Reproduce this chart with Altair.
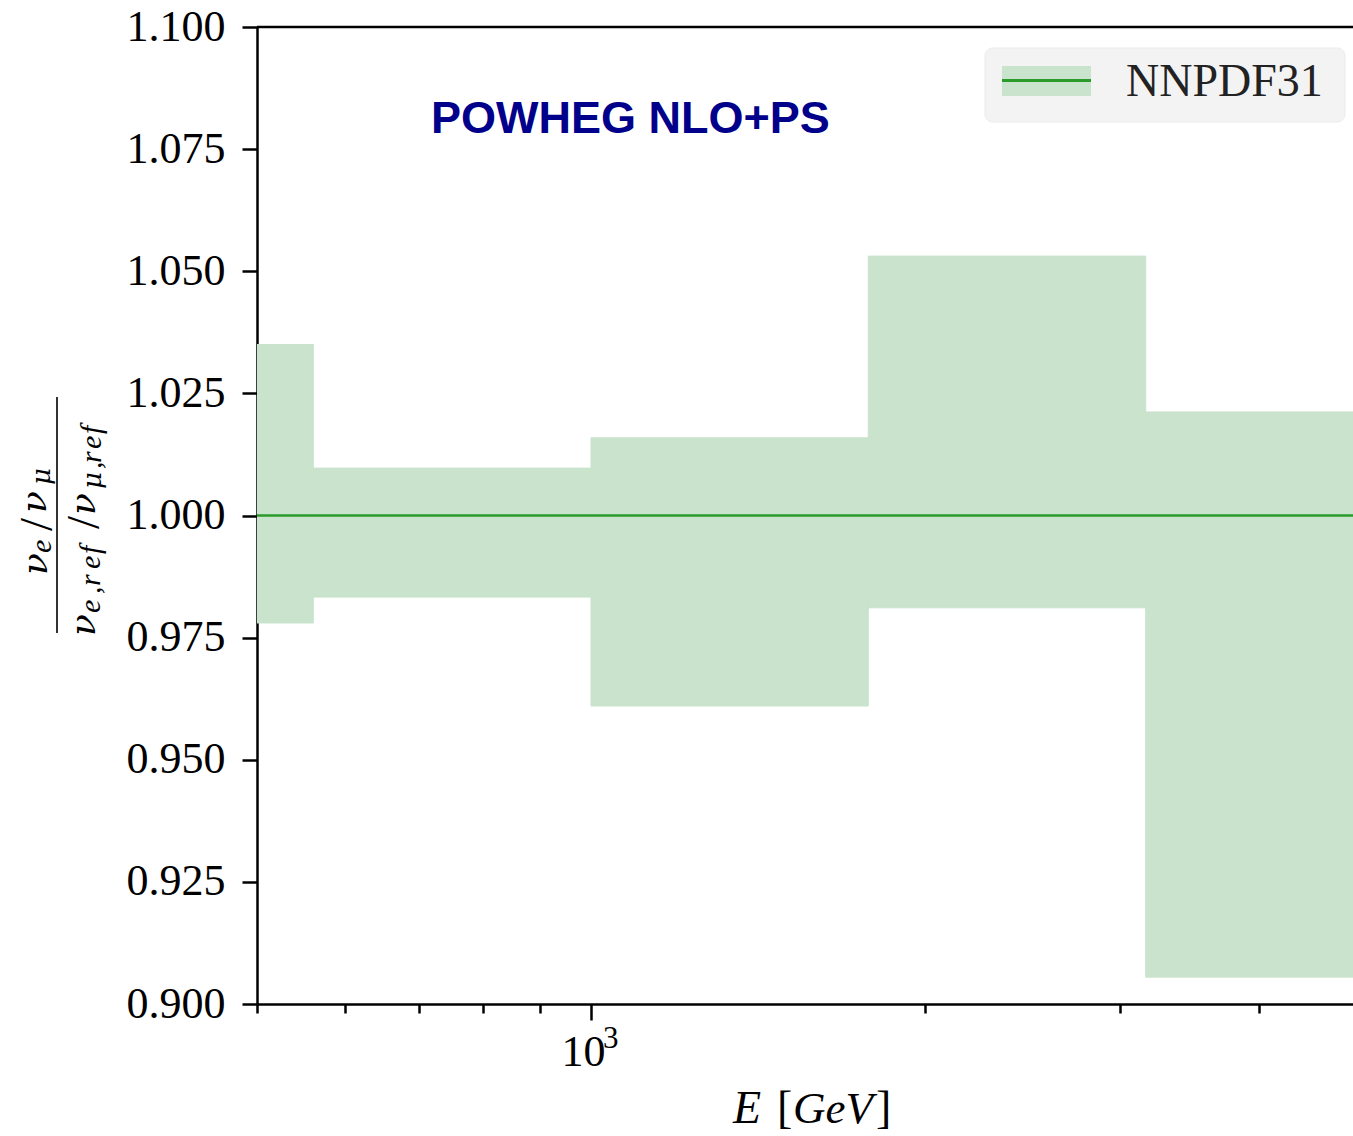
import altair as alt
import pandas as pd

# ---------------- data ----------------
bin_lo = [316, 562, 1000, 1778, 3162]
bin_hi = [562, 1000, 1778, 3162, 5623]
band_low = [0.978, 0.9833, 0.961, 0.9811, 0.9055]
band_high = [1.035, 1.0097, 1.0159, 1.0531, 1.0212]
central = [1.0]
x_ticks = [500, 600, 700, 800, 900, 1000, 2000, 3000, 4000]
y_ticks = [0.900, 0.925, 0.950, 0.975, 1.000, 1.025, 1.050, 1.075, 1.100]
legend_label = "NNPDF31"
annotation = "POWHEG NLO+PS"

# ---------------- layout constants ----------------
LEFT, TOP = 257, 27
W, H = 1096, 977
SERIF = "Liberation Serif"
GREEK = "DejaVu Serif"
SANS = "Liberation Sans"
GREEN = "#2a9a2a"
BAND = "#c9e3cc"

df = pd.DataFrame({"lo": bin_lo, "hi": bin_hi, "low": band_low, "high": band_high})
xscale = alt.Scale(type="log", domain=[500, 4862], nice=False)
yscale = alt.Scale(domain=[0.9, 1.1], nice=False, zero=False)

xaxis = alt.Axis(
    values=x_ticks,
    labelExpr="datum.value == 1000 ? '10' : ''",
    tickSize={"condition": {"test": "datum.value == 1000", "value": 16}, "value": 9},
    tickWidth=2.5, tickColor="black", domainWidth=2.5, domainColor="black",
    labelFont=SERIF, labelFontSize=44, labelColor="black", labelPadding=10,
    labelOffset=-8, labelFlush=False, labelOverlap=False, grid=False, title=None,
)
yaxis = alt.Axis(
    values=y_ticks, format=".3f",
    tickSize=15, tickWidth=2.5, tickColor="black", domainWidth=2.5, domainColor="black",
    labelFont=SERIF, labelFontSize=44, labelColor="black", labelPadding=17,
    labelFlush=False, labelOverlap=False, grid=False, title=None,
)

bands = alt.Chart(df).mark_rect(color=BAND, stroke=BAND, strokeWidth=1, clip=True).encode(
    x=alt.X("lo:Q", scale=xscale, axis=xaxis),
    x2="hi:Q",
    y=alt.Y("low:Q", scale=yscale, axis=yaxis),
    y2="high:Q",
)

center = alt.Chart(pd.DataFrame({"v": central})).mark_rule(color=GREEN, strokeWidth=2.4).encode(
    y=alt.Y("v:Q", scale=yscale)
)

one = alt.Data(values=[{"a": 1}])


def px(x):
    return alt.value(x - LEFT)


def py(y):
    return alt.value(y - TOP)


def text(t, x, y, size, font=SERIF, style="normal", weight="normal", color="black", angle=0, align="left"):
    return alt.Chart(one).mark_text(
        text=t, font=font, fontSize=size, fontStyle=style, fontWeight=weight,
        color=color, angle=angle, align=align, baseline="alphabetic",
    ).encode(x=px(x), y=py(y))


def box(x1, x2, y1, y2, **kw):
    return alt.Chart(one).mark_rect(**kw).encode(x=px(x1), x2=px(x2), y=py(y1), y2=py(y2))


layers = [bands, center]

# top spine
layers.append(alt.Chart(one).mark_rule(color="black", strokeWidth=2.5).encode(
    x=alt.value(0), x2=alt.value(W), y=alt.value(0)))

# legend
layers.append(box(985, 1345, 48, 122, fill="#f3f3f3", stroke="#ebebeb", strokeWidth=1, cornerRadius=8))
layers.append(box(1002, 1091, 66, 96, fill=BAND))
layers.append(alt.Chart(one).mark_rule(color=GREEN, strokeWidth=3).encode(
    x=px(1002), x2=px(1091), y=py(80.5)))
layers.append(text(legend_label, 1126, 96, 46, color="#222222"))

# annotation
layers.append(text(annotation, 431, 133, 45, font=SANS, weight="bold", color="#00008b"))

# x title  E [GeV]
layers.append(text("E", 733, 1123, 46, style="italic"))
layers.append(text("[", 777, 1123, 46))
layers.append(text("GeV", 793, 1123, 45, style="italic"))
layers.append(text("]", 876, 1123, 46))
# superscript of 10^3
layers.append(text("3", 603, 1048, 31))

# y title: fraction (nu_e/nu_mu) / (nu_e,ref/nu_mu,ref), rotated
pieces = [
    ("ν", 47, 575, 36, "italic", GREEK), ("e", 51, 553, 30, "italic", SERIF),
    ("/", 52, 531, 47, "normal", SERIF),
    ("ν", 46, 513, 36, "italic", GREEK), ("μ", 50, 485, 26, "italic", GREEK),
    ("ν", 95, 636, 36, "italic", GREEK), ("e", 100, 613, 30, "italic", SERIF),
    (",", 100, 594, 30, "italic", SERIF), ("r", 100, 586, 30, "italic", SERIF),
    ("e", 100, 569, 30, "italic", SERIF), ("f", 100, 554, 30, "italic", SERIF),
    ("/", 99, 529, 47, "normal", SERIF),
    ("ν", 95, 515, 36, "italic", GREEK), ("μ", 101, 489, 26, "italic", GREEK),
    (",", 101, 469, 30, "italic", SERIF), ("r", 101, 463, 30, "italic", SERIF),
    ("e", 101, 449, 30, "italic", SERIF), ("f", 101, 434, 30, "italic", SERIF),
]
for t, x, y, s, st, f in pieces:
    layers.append(text(t, x, y, s, font=f, style=st, angle=270))
layers.append(alt.Chart(one).mark_rule(color="black", strokeWidth=1.6).encode(
    x=px(57), y=py(397), y2=py(633)))

chart = alt.layer(*layers).properties(
    width=W, height=H,
    autosize=alt.AutoSizeParams(type="none"),
    padding={"left": LEFT, "top": TOP, "right": 0, "bottom": 1136 - TOP - H},
).configure_view(stroke=None)

chart.save("out.html", embed_options={"renderer": "svg", "actions": False})
